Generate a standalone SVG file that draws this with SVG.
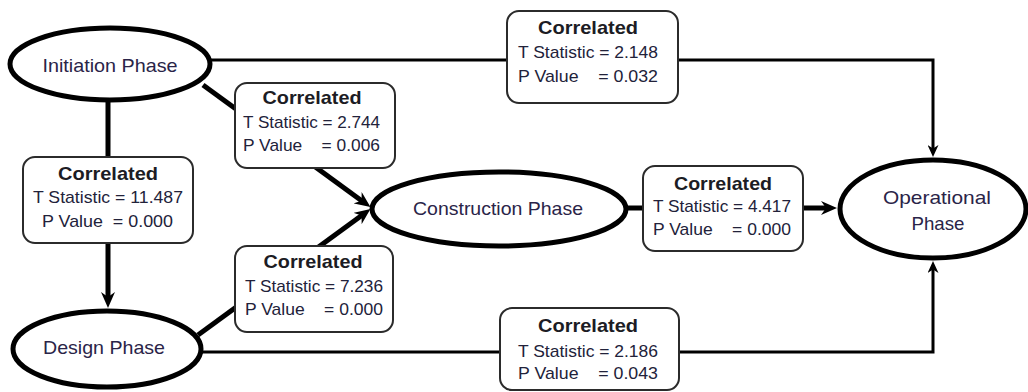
<svg xmlns="http://www.w3.org/2000/svg" width="1028" height="392" viewBox="0 0 1028 392">
  <style>
    .bg { fill: #ffffff; }
    .node ellipse { fill: #ffffff; stroke: #000000; stroke-width: 5; }
    .phase { font-family: "Liberation Sans", Arial, sans-serif; font-size: 18.5px; fill: #2a2448; }
    .lbl rect { fill: #ffffff; stroke: #2b2b2b; stroke-width: 2; }
    .head { font-family: "Liberation Sans", Arial, sans-serif; font-size: 19px; font-weight: bold; fill: #1c1c24; }
    .stat { font-family: "Liberation Sans", Arial, sans-serif; font-size: 17px; fill: #22223a; }
    .thick { fill: none; stroke: #000000; stroke-width: 5; }
    .thin { fill: none; stroke: #000000; stroke-width: 3; }
  </style>
  <defs>
    <marker id="ahThick" markerUnits="userSpaceOnUse" viewBox="0 0 16 14" markerWidth="16" markerHeight="14" refX="8" refY="7" orient="auto">
      <path d="M0,0 L16,7 L0,14 L5,7 z" fill="#000000"/>
    </marker>
    <marker id="ahThin" markerUnits="userSpaceOnUse" viewBox="0 0 12 11" markerWidth="12" markerHeight="11" refX="6" refY="5.5" orient="auto">
      <path d="M0,0 L12,5.5 L0,11 L3.5,5.5 z" fill="#000000"/>
    </marker>
  </defs>
  <rect class="bg" x="0" y="0" width="1028" height="392"/>

  <g id="connectors">
    <path id="e-init-oper" class="thin" d="M210,60 H933 V151" marker-end="url(#ahThin)"/>
    <path id="e-init-cons" class="thick" d="M203,85 L364,202.4" marker-end="url(#ahThick)"/>
    <path id="e-init-design" class="thick" d="M108,100 V300" marker-end="url(#ahThick)"/>
    <path id="e-design-cons" class="thick" d="M198,335 L364,213.8" marker-end="url(#ahThick)"/>
    <path id="e-cons-oper" class="thick" d="M627,208 H829" marker-end="url(#ahThick)"/>
    <path id="e-design-oper" class="thin" d="M200,352 H933 V267" marker-end="url(#ahThin)"/>
  </g>

  <g id="node-initiation" class="node">
    <ellipse cx="110" cy="64" rx="100" ry="36"/>
    <text class="phase" x="110" y="72" text-anchor="middle" textLength="135" lengthAdjust="spacingAndGlyphs">Initiation Phase</text>
  </g>
  <g id="node-design" class="node">
    <ellipse cx="107" cy="349" rx="94" ry="38"/>
    <text class="phase" x="104" y="354" text-anchor="middle" textLength="122" lengthAdjust="spacingAndGlyphs">Design Phase</text>
  </g>
  <g id="node-construction" class="node">
    <ellipse cx="499" cy="209" rx="127" ry="37"/>
    <text class="phase" x="498" y="215" text-anchor="middle" textLength="170" lengthAdjust="spacingAndGlyphs">Construction Phase</text>
  </g>
  <g id="node-operational" class="node">
    <ellipse cx="933" cy="209" rx="93" ry="49"/>
    <text class="phase" x="937" y="204" text-anchor="middle" textLength="108" lengthAdjust="spacingAndGlyphs">Operational</text>
    <text class="phase" x="938" y="230" text-anchor="middle" textLength="53" lengthAdjust="spacingAndGlyphs">Phase</text>
  </g>

  <g id="label-init-design" class="lbl">
    <rect x="23" y="157" width="170" height="86" rx="12" ry="12"/>
    <text class="head" x="108" y="180" text-anchor="middle" textLength="100" lengthAdjust="spacingAndGlyphs">Correlated</text>
    <text class="stat" x="33" y="203" textLength="150" lengthAdjust="spacingAndGlyphs">T Statistic = 11.487</text>
    <text class="stat" x="42" y="227" textLength="131" lengthAdjust="spacingAndGlyphs" xml:space="preserve">P Value  = 0.000</text>
  </g>
  <g id="label-init-cons" class="lbl">
    <rect x="235" y="83" width="160" height="85" rx="12" ry="12"/>
    <text class="head" x="312" y="104" text-anchor="middle" textLength="99" lengthAdjust="spacingAndGlyphs">Correlated</text>
    <text class="stat" x="243" y="128" textLength="137" lengthAdjust="spacingAndGlyphs">T Statistic = 2.744</text>
    <text class="stat" x="243" y="151" textLength="137" lengthAdjust="spacingAndGlyphs" xml:space="preserve">P Value    = 0.006</text>
  </g>
  <g id="label-design-cons" class="lbl">
    <rect x="235" y="246" width="158" height="86" rx="12" ry="12"/>
    <text class="head" x="313" y="268" text-anchor="middle" textLength="99" lengthAdjust="spacingAndGlyphs">Correlated</text>
    <text class="stat" x="245" y="292" textLength="138" lengthAdjust="spacingAndGlyphs">T Statistic = 7.236</text>
    <text class="stat" x="245" y="315" textLength="138" lengthAdjust="spacingAndGlyphs" xml:space="preserve">P Value    = 0.000</text>
  </g>
  <g id="label-init-oper" class="lbl">
    <rect x="507" y="11" width="171" height="92" rx="12" ry="12"/>
    <text class="head" x="588" y="34" text-anchor="middle" textLength="100" lengthAdjust="spacingAndGlyphs">Correlated</text>
    <text class="stat" x="518" y="58" textLength="140" lengthAdjust="spacingAndGlyphs">T Statistic = 2.148</text>
    <text class="stat" x="518" y="82" textLength="140" lengthAdjust="spacingAndGlyphs" xml:space="preserve">P Value    = 0.032</text>
  </g>
  <g id="label-cons-oper" class="lbl">
    <rect x="643" y="166" width="160" height="85" rx="12" ry="12"/>
    <text class="head" x="723" y="190" text-anchor="middle" textLength="98" lengthAdjust="spacingAndGlyphs">Correlated</text>
    <text class="stat" x="653" y="212" textLength="138" lengthAdjust="spacingAndGlyphs">T Statistic = 4.417</text>
    <text class="stat" x="653" y="235" textLength="138" lengthAdjust="spacingAndGlyphs" xml:space="preserve">P Value    = 0.000</text>
  </g>
  <g id="label-design-oper" class="lbl">
    <rect x="500" y="308" width="179" height="82" rx="12" ry="12"/>
    <text class="head" x="588" y="332" text-anchor="middle" textLength="100" lengthAdjust="spacingAndGlyphs">Correlated</text>
    <text class="stat" x="518" y="357" textLength="140" lengthAdjust="spacingAndGlyphs">T Statistic = 2.186</text>
    <text class="stat" x="518" y="379" textLength="140" lengthAdjust="spacingAndGlyphs" xml:space="preserve">P Value    = 0.043</text>
  </g>
</svg>
